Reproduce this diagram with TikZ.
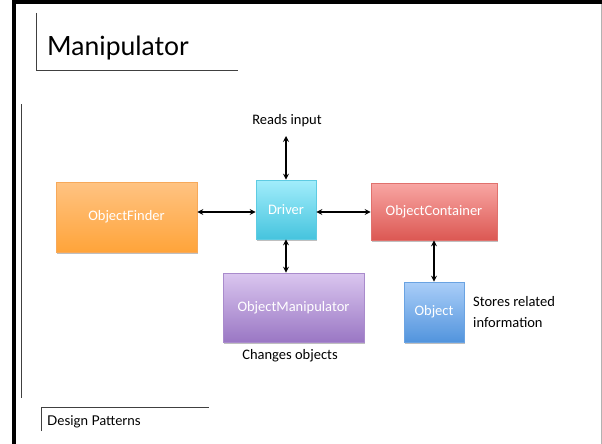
\documentclass[tikz,border=0pt]{standalone}
\usepackage{fontspec}
\setmainfont{Carlito}
\newfontfamily\gillish{Lato}
\usetikzlibrary{arrows.meta,shadows}

\definecolor{orTop}{HTML}{FFC382}
\definecolor{orBot}{HTML}{FFA43A}
\definecolor{orLine}{HTML}{F7A95A}
\definecolor{cyTop}{HTML}{A2EDFB}
\definecolor{cyBot}{HTML}{46C4DE}
\definecolor{cyLine}{HTML}{5ECBE2}
\definecolor{rdTop}{HTML}{F8A6A3}
\definecolor{rdBot}{HTML}{DC5853}
\definecolor{rdLine}{HTML}{E0716D}
\definecolor{blTop}{HTML}{AACEF8}
\definecolor{blBot}{HTML}{5294DD}
\definecolor{blLine}{HTML}{6AA3E2}
\definecolor{puTop}{HTML}{DAC6EF}
\definecolor{puBot}{HTML}{9A77C4}
\definecolor{puLine}{HTML}{A98BCC}

\tikzset{
  box/.style={draw=#1Line, line width=0.8pt, top color=#1Top, bottom color=#1Bot,
    text=white, font=\fontsize{14.5}{17}\selectfont, inner sep=0pt,
    drop shadow={shadow xshift=1.2pt, shadow yshift=-1.5pt, opacity=0.25, fill=black}},
  link/.style={line width=1.4pt, {Stealth[length=6pt,width=6pt,inset=2.2pt]}-{Stealth[length=6pt,width=6pt,inset=2.2pt]}},
  note/.style={font=\fontsize{14.5}{17}\selectfont, text=black, inner sep=0pt},
  rule/.style={line width=0.9pt, draw=black!75}
}

\begin{document}
\begin{tikzpicture}[x=1pt,y=-1pt]
\useasboundingbox (0,0) rectangle (602,444);

% slide frame
\fill[black] (12,0) rectangle (602,4.5);
\fill[black] (12,0) rectangle (15.5,444);
\draw[line width=1pt, black!30] (601.3,4.5) -- (601.3,444);

% title frame
\draw[rule] (36.5,13) -- (36.5,70.5) -- (238,70.5);
\node[anchor=base west, inner sep=0pt, font=\gillish\fontsize{26.5}{30}\selectfont] (title) at (47,56) {Manipulator};

% side rule
\draw[rule] (21.5,104) -- (21.5,398);

% footer
\draw[rule] (41.5,431) -- (41.5,407.5) -- (209,407.5);
\node[anchor=base west, inner sep=0pt, font=\gillish\fontsize{13.5}{15}\selectfont] (footer) at (47,425) {Design Patterns};

% components
\node[box=or, minimum width=141pt, minimum height=70pt] (finder) at (126.5,217) {ObjectFinder};
\node[box=cy, minimum width=60pt, minimum height=59pt] (driver) at (286,209.5) {Driver};
\node[box=rd, minimum width=126pt, minimum height=57pt] (container) at (434,211.5) {ObjectContainer};
\node[box=bl, minimum width=60pt, minimum height=60pt] (object) at (434,312) {Object};
\node[box=pu, minimum width=141pt, minimum height=69pt] (manip) at (293.5,307.5) {ObjectManipulator};

% labels
\node[note] (reads) at (287,121) {Reads input};
\coordinate (readsEnd) at (286,136);
\node[note] (changes) at (290,356) {Changes objects};
\node[note, anchor=west, align=left, font=\fontsize{14.5}{21}\selectfont] (stores) at (473,312.5) {Stores related\\information};

% connectors
\coordinate (row) at (0,212);
\draw[link] (readsEnd) -- (driver.north);
\draw[link] (finder.east |- row) -- (driver.west |- row);
\draw[link] (driver.east |- row) -- (container.west |- row);
\draw[link] (driver.south) -- (driver.south |- manip.north);
\draw[link] (container.south) -- (object.north);
\end{tikzpicture}
\end{document}
